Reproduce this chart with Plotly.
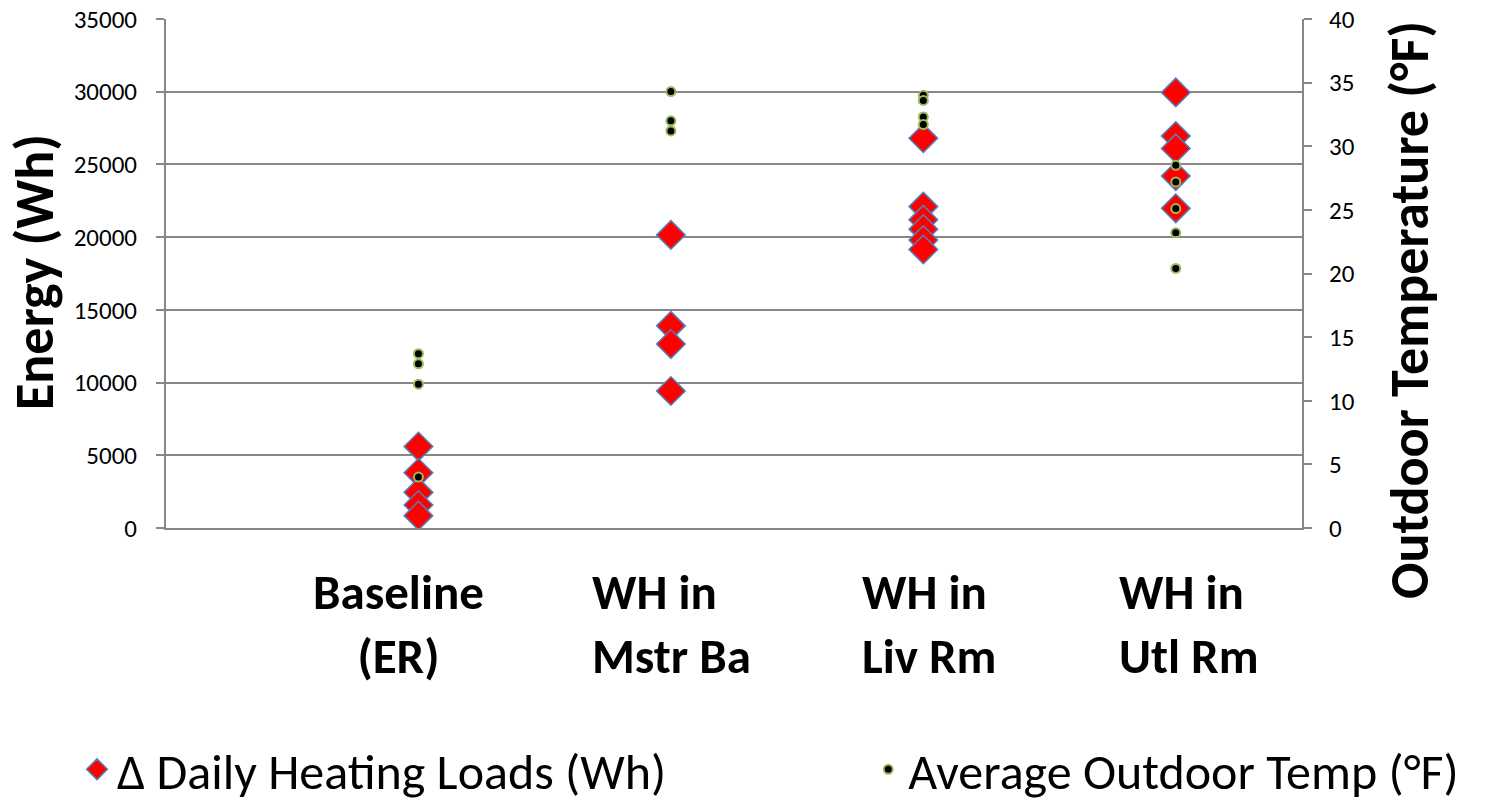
import plotly.graph_objects as go

# ---- data ----
categories = ["Baseline<br>(ER)", "WH in<br>Mstr Ba", "WH in<br>Liv Rm", "WH in<br>Utl Rm"]
category_pos = [1, 2, 3, 4]

loads_baseline = [5600, 3800, 2450, 1580, 850]
loads_mstr_ba = [20150, 13900, 12650, 9420]
loads_liv_rm = [26800, 22100, 21200, 20550, 19800, 19150]
loads_utl_rm = [29950, 26950, 26100, 24200, 21980]

temp_baseline = [13.7, 12.9, 11.3, 4.0]
temp_mstr_ba = [34.3, 32.0, 31.2]
temp_liv_rm = [34.0, 33.6, 32.3, 31.7]
temp_utl_rm = [28.5, 27.2, 25.1, 23.2, 20.4]

energy_ticks = [0, 5000, 10000, 15000, 20000, 25000, 30000, 35000]
temp_ticks = [0, 5, 10, 15, 20, 25, 30, 35, 40]

load_groups = [loads_baseline, loads_mstr_ba, loads_liv_rm, loads_utl_rm]
temp_groups = [temp_baseline, temp_mstr_ba, temp_liv_rm, temp_utl_rm]

lx, ly = [], []
for p, g in zip(category_pos, load_groups):
    lx += [p] * len(g)
    ly += g
tx, ty = [], []
for p, g in zip(category_pos, temp_groups):
    tx += [p] * len(g)
    ty += g

FONT = "Carlito, Calibri, Lato, sans-serif"
GRID = "#878787"

fig = go.Figure()
fig.add_trace(go.Scatter(
    x=lx, y=ly, mode="markers", name="Δ Daily Heating Loads (Wh)",
    marker=dict(symbol="diamond", size=22, color="#FF0000",
                line=dict(color="#4F81BD", width=1.5)),
    yaxis="y", legend="legend"))
fig.add_trace(go.Scatter(
    x=tx, y=ty, mode="markers", name="Average Outdoor Temp (°F)",
    marker=dict(symbol="circle", size=9, color="#000000",
                line=dict(color="#9BBB59", width=2)),
    yaxis="y2", legend="legend2"))

legend_common = dict(orientation="h", xref="container", yref="container",
                     xanchor="left", yanchor="middle",
                     font=dict(size=50, family=FONT, color="black"),
                     bgcolor="rgba(0,0,0,0)")

fig.update_layout(
    width=1510, height=803,
    margin=dict(l=166, r=208, t=19, b=275, autoexpand=False),
    paper_bgcolor="white", plot_bgcolor="white",
    font=dict(family=FONT, color="black"),
    showlegend=True,
    legend=dict(x=0.051, y=0.042, **legend_common),
    legend2=dict(x=0.575, y=0.042, **legend_common),
    xaxis=dict(range=[0, 4.5], showticklabels=False, showgrid=False, zeroline=False,
               showline=True, linecolor=GRID, linewidth=2, ticks=""),
    yaxis=dict(range=[0, 35000], tickvals=energy_ticks,
               ticktext=[str(v) for v in energy_ticks],
               showgrid=True, gridcolor=GRID,
               gridwidth=2, zeroline=False, showline=True, linecolor=GRID, linewidth=2,
               ticks="outside", ticklen=8, tickcolor=GRID, tickwidth=2,
               ticklabelstandoff=14,
               tickfont=dict(size=25, family=FONT, color="black")),
    yaxis2=dict(range=[0, 40], tickvals=temp_ticks,
                ticktext=[str(v) for v in temp_ticks],
                overlaying="y", side="right",
                showgrid=False, zeroline=False, showline=True, linecolor=GRID, linewidth=2,
                ticks="outside", ticklen=8, tickcolor=GRID, tickwidth=2,
                ticklabelstandoff=12,
                tickfont=dict(size=25, family=FONT, color="black")),
)

# axis titles
fig.add_annotation(text="<b>Energy (Wh)</b>", xref="paper", yref="paper",
                   x=-0.1153, y=0.503, xanchor="center", yanchor="middle",
                   textangle=-90, showarrow=False, font=dict(size=54, family=FONT))
fig.add_annotation(text="<b>Outdoor Temperature (°F)</b>", xref="paper", yref="paper",
                   x=1.095, y=0.428, xanchor="center", yanchor="middle",
                   textangle=-90, showarrow=False, font=dict(size=54, family=FONT))

# category labels
label_x = [0.92, 1.68, 2.75, 3.767]
label_anchor = ["center", "left", "left", "left"]
for txt, xv, anc in zip(categories, label_x, label_anchor):
    fig.add_annotation(text="<b>" + txt + "</b>", xref="x", yref="paper",
                       x=xv, y=-0.062, xanchor=anc, yanchor="top", align=anc,
                       showarrow=False, font=dict(size=49, family=FONT))

fig.write_html("out.html")
